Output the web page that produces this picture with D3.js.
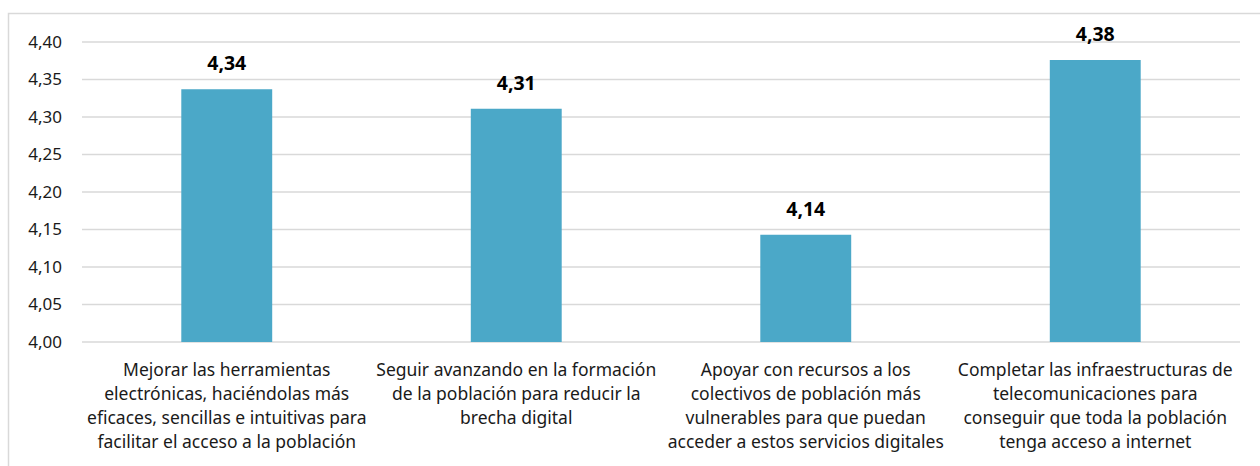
<!DOCTYPE html>
<html>
<head>
<meta charset="utf-8">
<script src="https://cdn.jsdelivr.net/npm/d3@7"></script>
<style>
  body { margin: 0; background: #fff; }
  svg { font-family: "Noto Sans", "Open Sans", sans-serif; }
</style>
</head>
<body>
<div id="chart"></div>
<script>
// data
var categories = [
    ["Mejorar las herramientas", "electrónicas, haciéndolas más", "eficaces, sencillas e intuitivas para", "facilitar el acceso a la población"],
    ["Seguir avanzando en la formación", "de la población para reducir la", "brecha digital"],
    ["Apoyar con recursos a los", "colectivos de población más", "vulnerables para que puedan", "acceder a estos servicios digitales"],
    ["Completar las infraestructuras de", "telecomunicaciones para", "conseguir que toda la población", "tenga acceso a internet"]
];
var values = [4.337, 4.311, 4.143, 4.376];
var valueLabels = ["4,34", "4,31", "4,14", "4,38"];
var yTicks = [4.00, 4.05, 4.10, 4.15, 4.20, 4.25, 4.30, 4.35, 4.40];

var width = 1260, height = 466;
var margin = {top: 42, right: 20, bottom: 124, left: 82};

var svg = d3.select("#chart").append("svg")
    .attr("width", width)
    .attr("height", height);

// outer frame
svg.append("rect")
    .attr("x", 8.5).attr("y", 13.5)
    .attr("width", 1270).attr("height", 470)
    .attr("fill", "none")
    .attr("stroke", "#d9d9d9")
    .attr("stroke-width", 1.5);

var x = d3.scaleBand()
    .domain(d3.range(categories.length))
    .range([margin.left, width - margin.right])
    .paddingInner(0.686)
    .paddingOuter(0.343);

var y = d3.scaleLinear()
    .domain([4.0, 4.4])
    .range([height - margin.bottom, margin.top]);

// gridlines
svg.append("g")
    .selectAll("line")
    .data(yTicks)
    .enter().append("line")
    .attr("x1", margin.left)
    .attr("x2", width - margin.right)
    .attr("y1", function (d) { return y(d); })
    .attr("y2", function (d) { return y(d); })
    .attr("stroke", "#d9d9d9")
    .attr("stroke-width", 1.5);

// y axis labels
var yAxis = d3.axisLeft(y)
    .tickValues(yTicks)
    .tickSize(0)
    .tickPadding(20)
    .tickFormat(function (d) { return d3.format(".2f")(d).replace(".", ","); });

var gy = svg.append("g")
    .attr("transform", "translate(" + margin.left + ",0)")
    .call(yAxis);
gy.select(".domain").remove();
gy.selectAll("text")
    .attr("font-size", 17)
    .attr("font-family", "'Noto Sans', sans-serif")
    .attr("fill", "#1a1a1a");

// bars
svg.append("g")
    .selectAll("rect")
    .data(values)
    .enter().append("rect")
    .attr("x", function (d, i) { return x(i); })
    .attr("width", x.bandwidth())
    .attr("y", function (d) { return y(d); })
    .attr("height", function (d) { return y(4.0) - y(d); })
    .attr("fill", "#4ba8c8");

// value labels
svg.append("g")
    .selectAll("text")
    .data(values)
    .enter().append("text")
    .attr("x", function (d, i) { return x(i) + x.bandwidth() / 2; })
    .attr("y", function (d) { return y(d) - 19; })
    .attr("text-anchor", "middle")
    .attr("font-size", 19.5)
    .attr("font-weight", "bold")
    .attr("fill", "#000")
    .text(function (d, i) { return valueLabels[i]; });

// category labels
var cat = svg.append("g")
    .selectAll("text")
    .data(categories)
    .enter().append("text")
    .attr("text-anchor", "middle")
    .attr("font-size", 17.5)
    .attr("fill", "#1a1a1a")
    .attr("transform", function (d, i) {
        return "translate(" + (x(i) + x.bandwidth() / 2) + "," + (height - margin.bottom + 34) + ")";
    });
cat.selectAll("tspan")
    .data(function (d) { return d; })
    .enter().append("tspan")
    .attr("x", 0)
    .attr("y", function (d, i) { return i * 24; })
    .text(function (d) { return d; });
</script>
</body>
</html>
